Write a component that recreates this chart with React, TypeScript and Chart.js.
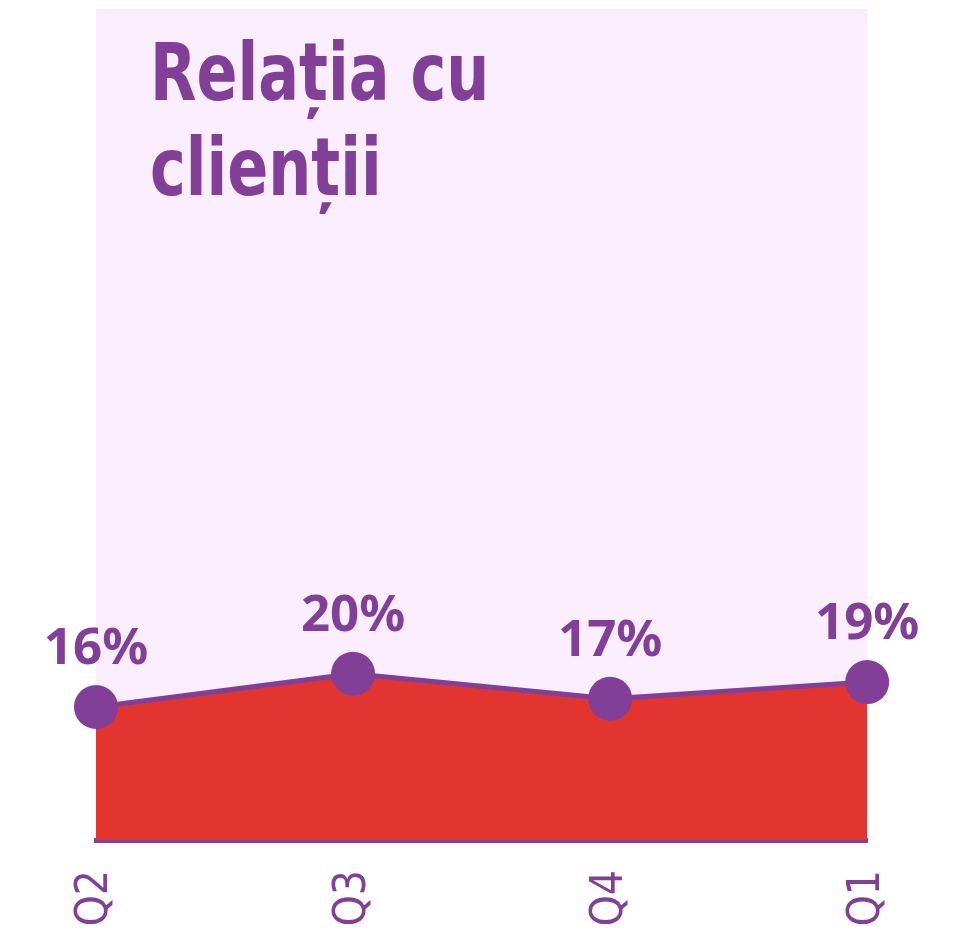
import React, { useEffect, useRef } from "react";
import { Chart, registerables } from "chart.js";

Chart.register(...registerables);

const categories = ["Q2", "Q3", "Q4", "Q1"];
const values = [16, 20, 17, 19];
const titleLines = ["Relația cu", "clienții"];

const PURPLE = "#823F98";
const RED = "#E2352F";
const BG = "#FAEEFD";

const bgPlugin = {
  id: "bgTitle",
  beforeDraw(chart: any) {
    const { ctx, chartArea } = chart;
    ctx.save();
    ctx.fillStyle = BG;
    ctx.fillRect(chartArea.left, chartArea.top, chartArea.right - chartArea.left, chartArea.bottom - chartArea.top);
    ctx.fillStyle = PURPLE;
    ctx.font = "bold 80px 'DejaVu Sans Condensed', 'DejaVu Sans', sans-serif";
    ctx.textBaseline = "alphabetic";
    ctx.textAlign = "left";
    const sx = 0.84;
    titleLines.forEach((line, i) => {
      ctx.save();
      ctx.translate(chartArea.left + 54, chartArea.top + 91 + i * 95);
      ctx.scale(sx, 1);
      ctx.fillText(line, 0, 0);
      ctx.restore();
    });
    ctx.restore();
  },
};

const labelPlugin = {
  id: "valueLabels",
  afterDatasetsDraw(chart: any) {
    const { ctx } = chart;
    const meta = chart.getDatasetMeta(0);
    ctx.save();
    ctx.fillStyle = PURPLE;
    ctx.font = "bold 51px 'Noto Sans', sans-serif";
    ctx.textAlign = "center";
    ctx.textBaseline = "alphabetic";
    meta.data.forEach((pt: any, i: number) => {
      ctx.fillText(values[i] + "%", pt.x, pt.y - 43);
    });
    ctx.restore();
  },
};

export default function App() {
  const ref = useRef<HTMLCanvasElement>(null);
  useEffect(() => {
    if (!ref.current) return;
    const chart = new Chart(ref.current, {
      type: "line",
      data: {
        labels: categories,
        datasets: [
          {
            data: values,
            borderColor: PURPLE,
            borderWidth: 5,
            backgroundColor: RED,
            fill: "origin",
            tension: 0,
            pointRadius: 22,
            pointHoverRadius: 22,
            pointBackgroundColor: PURPLE,
            pointBorderWidth: 0,
            clip: false as any,
          },
        ],
      },
      options: {
        responsive: true,
        maintainAspectRatio: false,
        animation: false,
        layout: { autoPadding: false, padding: { left: 88, right: 78, top: 1, bottom: 0 } },
        plugins: { legend: { display: false }, tooltip: { enabled: false }, title: { display: false } },
        scales: {
          x: {
            offset: false,
            grid: { display: false, drawTicks: false },
            border: { display: true, color: PURPLE, width: 5 },
            ticks: {
              color: PURPLE,
              font: { size: 44, family: "'DejaVu Sans Condensed', 'DejaVu Sans', sans-serif" },
              maxRotation: 90,
              minRotation: 90,
              padding: 30,
            },
            afterFit: (scale: any) => {
              scale.height = 98;
            },
          },
          y: { display: false, min: 0, max: 100 },
        },
      },
      plugins: [bgPlugin, labelPlugin],
    });
    return () => chart.destroy();
  }, []);
  return (
    <div style={{ width: 942, height: 930, position: "relative" }}>
      <canvas ref={ref} />
    </div>
  );
}
